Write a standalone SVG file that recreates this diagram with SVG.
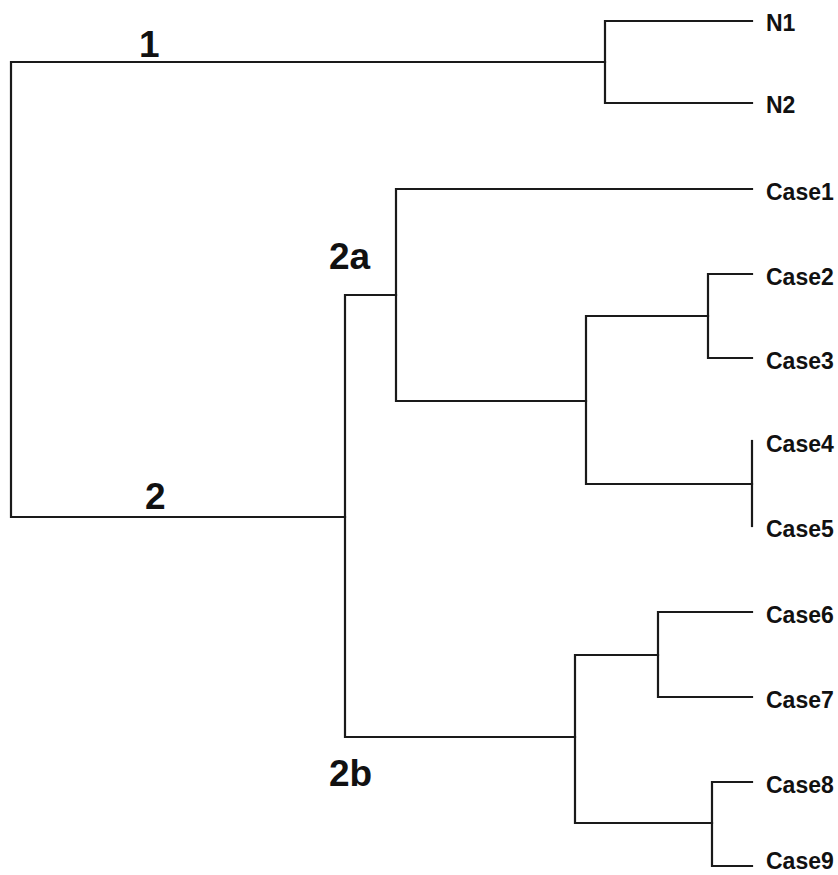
<svg xmlns="http://www.w3.org/2000/svg" width="838" height="875" viewBox="0 0 838 875">
<style>
.e{fill:none;stroke:#1a1a1a;stroke-width:2.2;stroke-linecap:square}
.leaf{font-family:"Liberation Sans",Arial,sans-serif;font-weight:bold;font-size:23px;fill:#111}
.cl{font-family:"Liberation Sans",Arial,sans-serif;font-weight:bold;font-size:37px;fill:#111}
</style>
<rect width="838" height="875" fill="#fff"/>
<g id="connectors">
<path class="e" d="M11,62 V517 M11,62 H605 M11,517 H345"/>
<path class="e" d="M605,21 V103 M605,21 H752 M605,103 H752"/>
<path class="e" d="M345,295 V737 M345,295 H396 M345,737 H575"/>
<path class="e" d="M396,189 V401 M396,189 H752 M396,401 H586"/>
<path class="e" d="M586,316 V484 M586,316 H708 M586,484 H752"/>
<path class="e" d="M708,274 V358 M708,274 H752 M708,358 H752"/>
<path class="e" d="M752,441 V526"/>
<path class="e" d="M575,655 V823 M575,655 H658 M575,823 H712"/>
<path class="e" d="M658,612 V697 M658,612 H752 M658,697 H752"/>
<path class="e" d="M712,782 V866 M712,782 H752 M712,866 H752"/>
</g>
<g id="cluster-labels">
<text id="lab1" class="cl" x="139" y="57">1</text>
<text id="lab2" class="cl" x="145" y="509">2</text>
<text id="lab2a" class="cl" x="329" y="269">2a</text>
<text id="lab2b" class="cl" x="329" y="786">2b</text>
</g>
<g id="N1"><text class="leaf" x="766" y="31">N1</text></g>
<g id="N2"><text class="leaf" x="766" y="113">N2</text></g>
<g id="Case1"><text class="leaf" x="766" y="200">Case1</text></g>
<g id="Case2"><text class="leaf" x="766" y="285">Case2</text></g>
<g id="Case3"><text class="leaf" x="766" y="369">Case3</text></g>
<g id="Case4"><text class="leaf" x="766" y="452">Case4</text></g>
<g id="Case5"><text class="leaf" x="766" y="537">Case5</text></g>
<g id="Case6"><text class="leaf" x="766" y="623">Case6</text></g>
<g id="Case7"><text class="leaf" x="766" y="708">Case7</text></g>
<g id="Case8"><text class="leaf" x="766" y="793">Case8</text></g>
<g id="Case9"><text class="leaf" x="766" y="869">Case9</text></g>
</svg>
